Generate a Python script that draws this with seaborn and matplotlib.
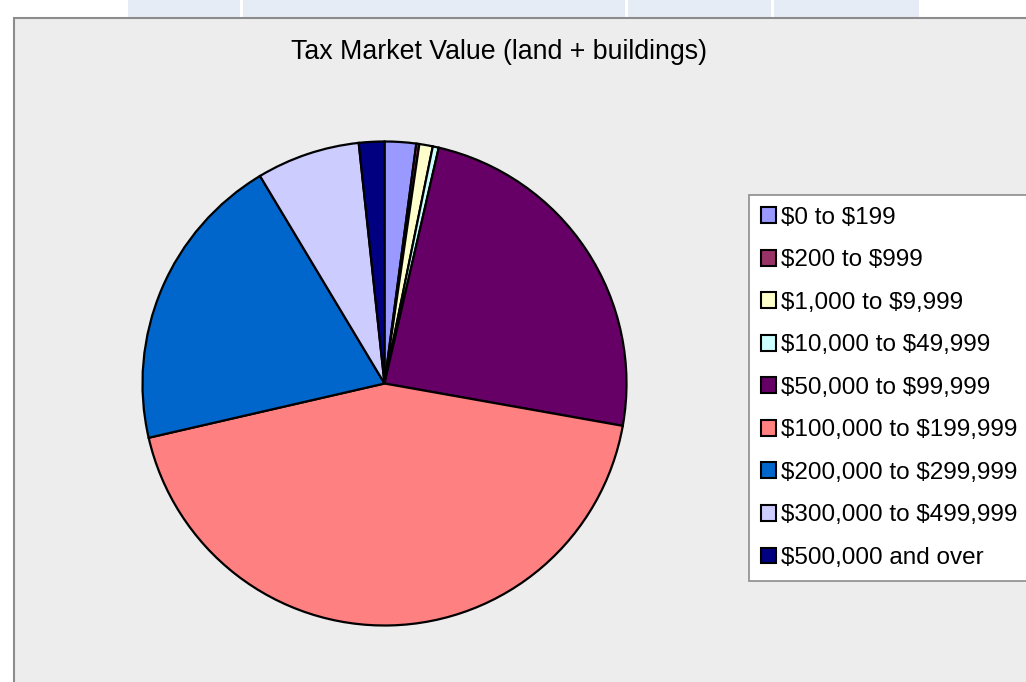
import matplotlib
matplotlib.use("Agg")
import matplotlib.pyplot as plt
from matplotlib.patches import Rectangle
import seaborn as sns

# Set graph style
sns.set_style("white")
plt.rcParams['font.family'] = ['Liberation Sans', 'DejaVu Sans']
plt.rcParams['text.parse_math'] = False

# Data (share of parcels, %)
categories = [
    '$0 to $199',
    '$200 to $999',
    '$1,000 to $9,999',
    '$10,000 to $49,999',
    '$50,000 to $99,999',
    '$100,000 to $199,999',
    '$200,000 to $299,999',
    '$300,000 to $499,999',
    '$500,000 and over',
]
shares = [2.1, 0.2, 0.9, 0.4, 24.2, 43.6, 20.0, 6.9, 1.7]
colors = ['#9999FF', '#993366', '#FFFFCC', '#CCFFFF', '#660066',
          '#FF8080', '#0066CC', '#CCCCFF', '#000080']
palette = sns.color_palette(colors)

W, H = 1026, 682
fig = plt.figure(figsize=(W / 100, H / 100), dpi=100)
fig.patch.set_facecolor('white')

# Top strip boxes and chart area frame
for x0, x1 in [(128, 240), (243, 625), (628, 771), (774, 919)]:
    fig.patches.append(Rectangle((x0 / W, 1 - 18 / H), (x1 - x0) / W, 18 / H,
                                 transform=fig.transFigure, facecolor='#E6ECF6',
                                 edgecolor='none', zorder=-2))
fig.patches.append(Rectangle((14 / W, -0.05), 1.1, 1 - 18 / H + 0.05,
                             transform=fig.transFigure, facecolor='#EDEDED',
                             edgecolor='#8C8C8C', linewidth=1.5, zorder=-1))

# Pie
cx, cy, r = 384.5, 383.5, 242 * 1.01
ax = fig.add_axes([(cx - r) / W, (H - cy - r) / H, 2 * r / W, 2 * r / H])
wedges, _ = ax.pie(shares, colors=palette, startangle=90, counterclock=False,
                   radius=1, wedgeprops=dict(edgecolor='black', linewidth=1.6))
ax.set_xlim(-1.01, 1.01)
ax.set_ylim(-1.01, 1.01)
ax.set_aspect('equal')
ax.axis('off')

fig.text(499 / W, 1 - 52 / H, 'Tax Market Value (land + buildings)',
         ha='center', va='center', fontsize=19.3, color='black')

leg_top = 1 - 195 / H
leg = fig.legend(wedges, categories, loc='upper left', mode='expand',
                 bbox_to_anchor=(749 / W, leg_top - 0.6, 300 / W, 0.6),
                 fontsize=17.5, frameon=True, fancybox=False, framealpha=1,
                 handlelength=0.62, handleheight=0.62, handletextpad=0.2,
                 labelspacing=0.845, borderpad=0.48, borderaxespad=0)
leg.get_frame().set_edgecolor('#8C8C8C')
leg.get_frame().set_linewidth(1.2)
for h in leg.legend_handles:
    h.set_linewidth(1.5)
for t in leg.get_texts():
    t.set_color('black')

fig.savefig('out.png', dpi=100, facecolor=fig.get_facecolor())
